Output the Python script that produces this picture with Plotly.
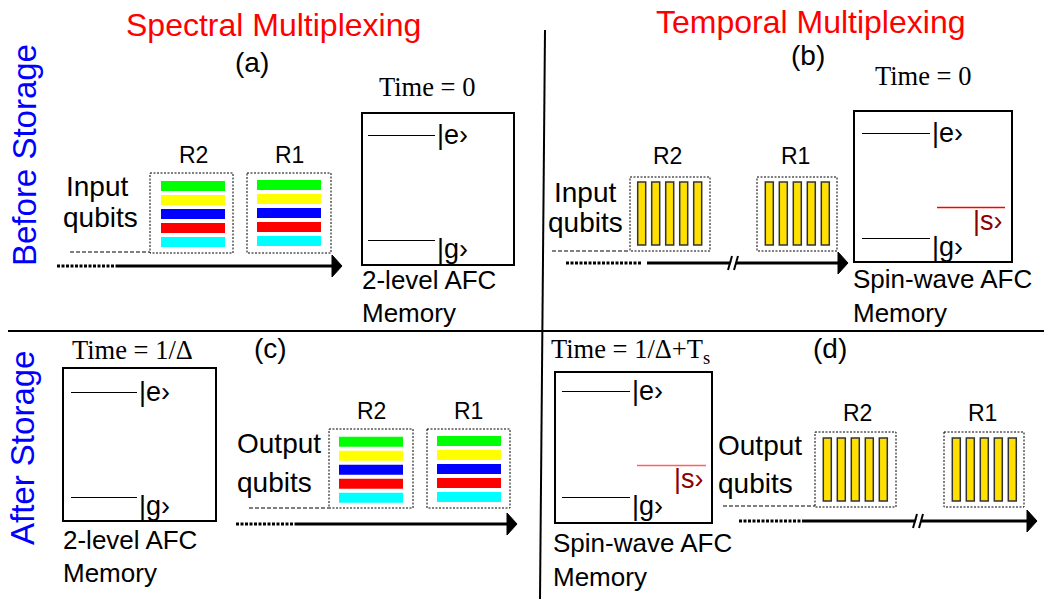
import plotly.graph_objects as go

# ---------------- content ----------------
column_titles = ["Spectral Multiplexing", "Temporal Multiplexing"]
row_titles = ["Before Storage", "After Storage"]
panel_letters = ["(a)", "(b)", "(c)", "(d)"]
time_labels = ["Time = 0", "Time = 0", "Time = 1/Δ", "Time = 1/Δ+T<sub>s</sub>"]
memory_labels = [["2-level AFC", "Memory"], ["Spin-wave AFC", "Memory"],
                 ["2-level AFC", "Memory"], ["Spin-wave AFC", "Memory"]]
qubit_labels = [["Input", "qubits"], ["Input", "qubits"],
                ["Output", "qubits"], ["Output", "qubits"]]
register_labels = ["R2", "R1"]
spectral_modes = ["#00FF00", "#FFFF00", "#0000FF", "#FF0000", "#00FFFF"]
temporal_modes = ["t1", "t2", "t3", "t4", "t5"]
level_labels = {"e": "|e›", "g": "|g›", "s": "|s›"}

SANS = "Liberation Sans, Arial, sans-serif"
SERIF = "Liberation Serif, Times New Roman, serif"

shapes = []
annots = []


def text(x, y, s, size=26, color="black", xa="center", ya="middle", fam=SANS, angle=0):
    annots.append(dict(x=x, y=y, xref="x", yref="y", text=s, showarrow=False,
                       xanchor=xa, yanchor=ya, textangle=angle,
                       font=dict(family=fam, size=size, color=color)))


def line(x0, y0, x1, y1, color="black", width=1, dash="solid"):
    shapes.append(dict(type="line", x0=x0, y0=y0, x1=x1, y1=y1, xref="x", yref="y",
                       line=dict(color=color, width=width, dash=dash)))


def rect(x0, y0, x1, y1, color="black", width=1, dash="solid", fill="rgba(0,0,0,0)"):
    shapes.append(dict(type="rect", x0=x0, y0=y0, x1=x1, y1=y1, xref="x", yref="y",
                       fillcolor=fill, line=dict(color=color, width=width, dash=dash)))


def arrow(y, xd0, xd1, xs0, tip, brk=None):
    line(xd0, y, xd1, y, width=3, dash="3px,1.5px")
    line(xs0, y, tip - 8, y, width=3)
    shapes.append(dict(type="path", xref="x", yref="y",
                       path=f"M {tip-10},{y-11} L {tip},{y} L {tip-10},{y+11} Z",
                       fillcolor="black", line=dict(color="black", width=1)))
    if brk is not None:
        shapes.append(dict(type="path", xref="x", yref="y",
                           path=f"M {brk-4},{y+6} L {brk},{y-6} L {brk+5},{y-6} L {brk+1},{y+6} Z",
                           fillcolor="white", line=dict(color="white", width=0)))
        line(brk - 5, y + 7, brk - 1, y - 7, width=2)
        line(brk + 1, y + 7, brk + 5, y - 7, width=2)


def memory(i, box, e_y, g_y, lx0, lx1, s=None, label_x=None, label_y=None):
    x0, y0, x1, y1 = box
    rect(x0, y0, x1, y1, width=2)
    line(lx0, e_y + 0.5, lx1, e_y + 0.5, color="black", width=1)
    text(lx1, e_y, level_labels["e"], size=27, xa="left")
    line(lx0, g_y + 0.5, lx1, g_y + 0.5, color="black", width=1)
    text(lx1, g_y + 9, level_labels["g"], size=27, xa="left")
    if s is not None:
        sx0, sx1, sy, lc = s
        line(sx0, sy + 0.5, sx1, sy + 0.5, color=lc, width=1.5)
        text(sx1, sy + 14, level_labels["s"], size=27, color="#8B0000", xa="right")
    for k, t in enumerate(memory_labels[i]):
        text(label_x, label_y[k], t, size=26, xa="left")


def spectral_register(box, bx0, bx1, yc0, label_xy, name):
    rect(*box, width=1, dash="2px,1.5px")
    for k, c in enumerate(spectral_modes):
        yc = yc0 + 14 * k
        rect(bx0, yc - 5, bx1, yc + 5, color=c, width=0, fill=c)
    text(label_xy[0], label_xy[1], name, size=23)


def temporal_register(box, left0, yt, yb, label_xy, name):
    rect(*box, width=1, dash="2px,1.5px")
    for k, _ in enumerate(temporal_modes):
        xl = left0 + 14 * k
        rect(xl, yt, xl + 8, yb, color="#333", width=1.5, fill="#FFE000")
    text(label_xy[0], label_xy[1], name, size=23)


# ---------------- dividers & titles ----------------
line(8, 331, 1044, 331, width=2)
line(545, 30, 540, 599, width=2)
text(273, 25, column_titles[0], size=32, color="#FF0000")
text(810, 22, column_titles[1], size=32, color="#FF0000")
text(24, 155, row_titles[0], size=33, color="#0000FF", angle=-90)
text(22, 448, row_titles[1], size=33, color="#0000FF", angle=-90)

# ---------------- panel (a) ----------------
text(252, 62, panel_letters[0], size=28)
text(427, 87, time_labels[0], size=26.5, fam=SERIF)
memory(0, (362, 113, 514, 265), 135, 240, 368, 435, label_x=360, label_y=[280, 313])
text(97, 186, qubit_labels[0][0], size=28)
text(100, 217, qubit_labels[0][1], size=28)
line(70, 252, 150, 252, width=1, dash="4px,2px")
spectral_register((150, 173, 233, 253), 161, 225, 186, (193, 155), register_labels[0])
spectral_register((247, 173, 331, 253), 257, 321, 185, (289, 155), register_labels[1])
arrow(266, 57, 117, 117, 342)

# ---------------- panel (b) ----------------
text(808, 55, panel_letters[1], size=28)
text(923, 76, time_labels[1], size=26.5, fam=SERIF)
memory(1, (854, 111, 1012, 262), 133, 238, 862, 930,
       s=(937, 1005, 207, "#FF0000"), label_x=851, label_y=[279, 313])
text(552, 192, qubit_labels[1][0], size=28, xa="left")
text(546, 222, qubit_labels[1][1], size=28, xa="left")
line(552, 251, 630, 251, width=1, dash="4px,2px")
temporal_register((630, 177, 710, 251), 637.7, 182, 245, (667, 156), register_labels[0])
temporal_register((757, 177, 837, 251), 765.3, 182, 245, (795, 156), register_labels[1])
arrow(263, 566, 642, 647, 848, brk=733)

# ---------------- panel (c) ----------------
text(270, 348, panel_letters[2], size=28)
text(132, 350, time_labels[2], size=26.5, fam=SERIF)
memory(2, (63, 368, 216, 521), 392, 497, 71, 137, label_x=61, label_y=[540, 573])
text(235, 443, qubit_labels[2][0], size=28, xa="left")
text(235, 482, qubit_labels[2][1], size=28, xa="left")
line(249, 508, 329, 508, width=1, dash="4px,2px")
spectral_register((329, 429, 413, 508), 339, 403, 441.7, (371, 411), register_labels[0])
spectral_register((427, 429, 510, 508), 437, 501, 441, (468, 411), register_labels[1])
arrow(524, 236, 295, 295, 517)

# ---------------- panel (d) ----------------
text(830, 348, panel_letters[3], size=28)
text(549, 351, time_labels[3], size=26.5, fam=SERIF, xa="left")
memory(3, (555, 372, 712, 523), 391, 497, 562, 630,
       s=(637, 706, 465, "#FF6060"), label_x=551, label_y=[543, 577])
text(716, 445, qubit_labels[3][0], size=28, xa="left")
text(716, 483, qubit_labels[3][1], size=28, xa="left")
line(723, 506, 815, 506, width=1, dash="4px,2px")
temporal_register((815, 432, 896, 507), 823.3, 438, 501, (857, 413), register_labels[0])
temporal_register((944, 432, 1024, 507), 952.3, 438, 501, (982, 413), register_labels[1])
arrow(521, 739, 802, 802, 1037, brk=918)

fig = go.Figure()
fig.update_layout(
    width=1044, height=599, autosize=False,
    margin=dict(l=0, r=0, t=0, b=0),
    paper_bgcolor="white", plot_bgcolor="white",
    xaxis=dict(range=[0, 1044], visible=False, fixedrange=True),
    yaxis=dict(range=[599, 0], visible=False, fixedrange=True),
    shapes=shapes, annotations=annots, showlegend=False,
)
fig.write_html("out.html", config={"displayModeBar": False},
               post_script="document.body.style.margin='0px';")
